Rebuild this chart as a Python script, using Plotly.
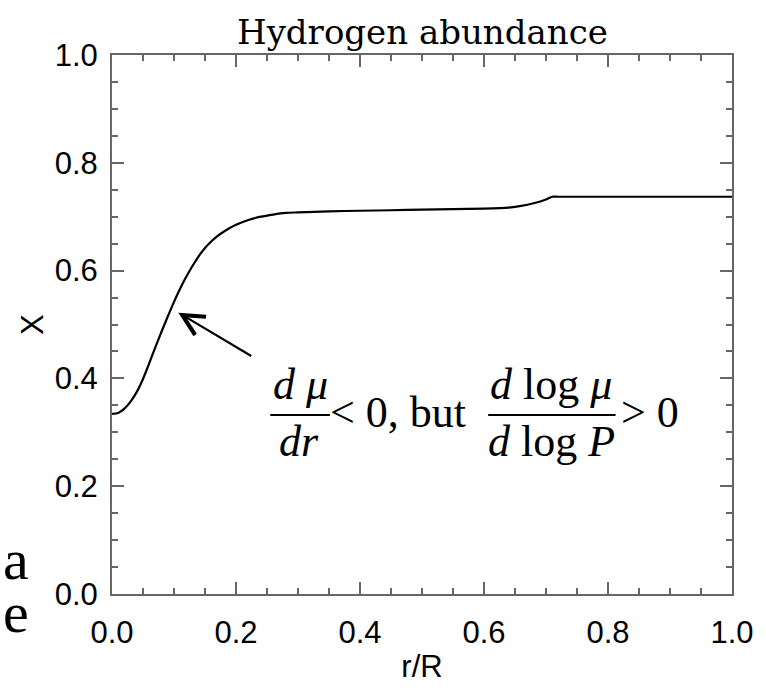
import plotly.graph_objects as go

# ---- data ----
r_vals = [0.00, 0.01, 0.02, 0.03, 0.04, 0.05, 0.06, 0.07, 0.08, 0.09, 0.10,
          0.11, 0.12, 0.13, 0.14, 0.15, 0.16, 0.17, 0.18, 0.19, 0.20, 0.22,
          0.24, 0.26, 0.28, 0.30, 0.35, 0.40, 0.45, 0.50, 0.55, 0.60, 0.64,
          0.66, 0.68, 0.70, 0.71, 0.72, 0.80, 0.90, 1.00]
X_vals = [0.334, 0.336, 0.344, 0.357, 0.375, 0.399, 0.428, 0.458, 0.487, 0.515, 0.542,
          0.567, 0.589, 0.609, 0.627, 0.642, 0.654, 0.664, 0.672, 0.679, 0.685, 0.694,
          0.700, 0.704, 0.707, 0.708, 0.710, 0.711, 0.712, 0.713, 0.714, 0.715, 0.717,
          0.720, 0.725, 0.732, 0.737, 0.737, 0.737, 0.737, 0.737]

x_tickvals = [0.0, 0.2, 0.4, 0.6, 0.8, 1.0]
x_ticktext = ["0.0", "0.2", "0.4", "0.6", "0.8", "1.0"]
y_tickvals = [0.0, 0.2, 0.4, 0.6, 0.8, 1.0]
y_ticktext = ["0.0", "0.2", "0.4", "0.6", "0.8", "1.0"]

title_text = "Hydrogen abundance"
x_title = "r/R"
y_title = "X"

# ---- layout constants ----
W, H = 766, 690
L, R, T, B = 112, 31, 55, 93
PW, PH = W - L - R, H - T - B

def px(xp):
    return (xp - L) / PW

def py(yp):
    return (H - B - yp) / PH

AXCOL = "#666666"
TICKFONT = dict(family="Liberation Sans Narrow, Liberation Sans, sans-serif", size=31, color="black")
MATHFONT = "Liberation Serif, Times New Roman, serif"

fig = go.Figure()
fig.add_trace(go.Scatter(x=r_vals, y=X_vals, mode="lines",
                         line=dict(color="black", width=2.2, shape="spline", smoothing=0.7),
                         showlegend=False, hoverinfo="skip"))

axis_common = dict(
    showgrid=False, zeroline=False, showline=True, linecolor=AXCOL, linewidth=2,
    mirror="allticks", ticks="inside", ticklen=12, tickwidth=1.5, tickcolor=AXCOL,
    tickfont=TICKFONT,
)
fig.update_xaxes(range=[0, 1], tickvals=x_tickvals, ticktext=x_ticktext,
                 minor=dict(dtick=0.05, ticks="inside", ticklen=6, tickwidth=1.5, tickcolor=AXCOL, tick0=0),
                 title=dict(text=x_title, font=TICKFONT, standoff=6),
                 ticklabelstandoff=10, **axis_common)
fig.update_yaxes(range=[0, 1], tickvals=y_tickvals, ticktext=y_ticktext,
                 minor=dict(dtick=0.05, ticks="inside", ticklen=6, tickwidth=1.5, tickcolor=AXCOL, tick0=0),
                 ticklabelstandoff=6, **axis_common)

annotations = []
# title
annotations.append(dict(text=title_text, x=0.5, y=py(32), xref="paper", yref="paper",
                        xanchor="center", yanchor="middle", showarrow=False,
                        font=dict(family="DejaVu Serif, serif", size=34, color="black")))
# y-axis title
annotations.append(dict(text=y_title, x=px(32), y=0.5, xref="paper", yref="paper",
                        xanchor="center", yanchor="middle", showarrow=False, textangle=-90,
                        font=TICKFONT))
# arrow
annotations.append(dict(x=0.107, y=0.522, ax=0.227, ay=0.440, xref="x", yref="y",
                        axref="x", ayref="y", text="", showarrow=True,
                        arrowhead=5, arrowsize=1.9, arrowwidth=2.2, arrowcolor="black"))

MS = 44
def math(txt, xc, yc, size=MS, anchor="center"):
    annotations.append(dict(text=txt, x=px(xc), y=py(yc), xref="paper", yref="paper",
                            xanchor=anchor, yanchor="middle", showarrow=False,
                            font=dict(family=MATHFONT, size=size, color="black")))

math("<i>d</i> <i>μ</i>", 301, 386)
math("<i>dr</i>", 300, 444)
math("&lt; 0, but", 399, 414)
math("<i>d</i> log <i>μ</i>", 553, 386)
math("<i>d</i> log <i>P</i>", 554, 444)
math("&gt; 0", 653, 414)

# slide remnants at the left edge
annotations.append(dict(text="a", x=px(0), y=py(562), xref="paper", yref="paper",
                        xanchor="left", yanchor="middle", showarrow=False,
                        font=dict(family=MATHFONT, size=58, color="black")))
annotations.append(dict(text="e", x=px(0), y=py(616), xref="paper", yref="paper",
                        xanchor="left", yanchor="middle", showarrow=False,
                        font=dict(family=MATHFONT, size=58, color="black")))

shapes = [
    dict(type="line", xref="paper", yref="paper", x0=px(271), x1=px(331), y0=py(417), y1=py(417),
         line=dict(color="black", width=2)),
    dict(type="line", xref="paper", yref="paper", x0=px(490), x1=px(618), y0=py(417), y1=py(417),
         line=dict(color="black", width=2)),
]

fig.update_layout(width=W, height=H, autosize=False,
                  margin=dict(l=L, r=R, t=T, b=B, pad=0),
                  plot_bgcolor="white", paper_bgcolor="white",
                  annotations=annotations, shapes=shapes)

fig.write_html("out.html")
